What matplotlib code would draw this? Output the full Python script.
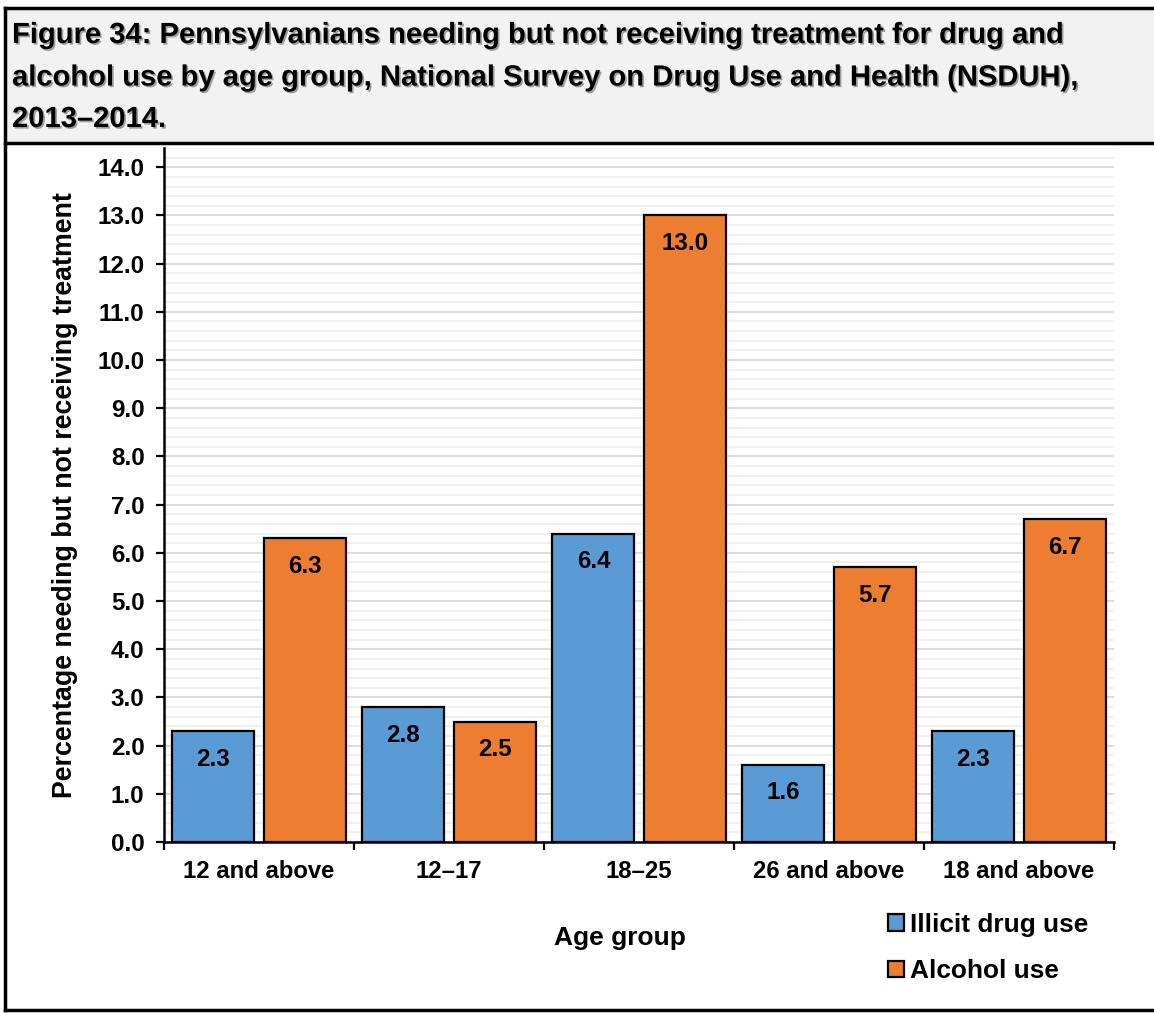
import matplotlib
matplotlib.use("Agg")
import matplotlib.pyplot as plt
from matplotlib.patches import Rectangle
from matplotlib.lines import Line2D
from matplotlib.ticker import MultipleLocator, FormatStrFormatter
import matplotlib.patheffects as pe
import numpy as np

categories = ["12 and above", "12\u201317", "18\u201325", "26 and above", "18 and above"]
illicit = [2.3, 2.8, 6.4, 1.6, 2.3]
alcohol = [6.3, 2.5, 13.0, 5.7, 6.7]
series_names = ["Illicit drug use", "Alcohol use"]
title_lines = ["Figure 34: Pennsylvanians needing but not receiving treatment for drug and",
               "alcohol use by age group, National Survey on Drug Use and Health (NSDUH),",
               "2013\u20132014."]

plt.rcParams['font.family'] = ['Liberation Sans', 'DejaVu Sans']
plt.rcParams['font.weight'] = 'bold'

W, H = 1154, 1013
fig = plt.figure(figsize=(W / 100, H / 100), dpi=100)

def fx(px):
    return px / W

def fy(py):
    return 1 - py / H

# Title box
fig.patches.append(Rectangle((fx(5), fy(143)), 1 - fx(5), fy(8) - fy(143),
                             transform=fig.transFigure, facecolor="#f2f2f2",
                             edgecolor="none", zorder=0))
# outer border
for xs, ys in (([fx(5), fx(5)], [fy(1010), fy(8)]),
               ([fx(5), 1], [fy(8), fy(8)]),
               ([fx(5), 1], [fy(1010), fy(1010)]),
               ([fx(5), 1], [fy(143), fy(143)])):
    fig.lines.append(Line2D(xs, ys, transform=fig.transFigure, color="black", lw=2.5))

for line, base in zip(title_lines, (43, 85.5, 127)):
    fig.text(fx(12), fy(base), line, ha="left", va="baseline", fontsize=21,
             fontweight="bold", color="black",
             path_effects=[pe.SimplePatchShadow(offset=(1.2, -1.2), alpha=0.35),
                           pe.Normal()])

ax_top, ax_bot = 148, 842
ax = fig.add_axes([fx(164), fy(ax_bot), fx(1114) - fx(164), fy(ax_top) - fy(ax_bot)])

x = np.arange(len(categories))
bw = 0.432
off = 0.24
b1 = ax.bar(x - off, illicit, bw, color="#5B9BD5", edgecolor="black", linewidth=1.6,
            label=series_names[0], zorder=3)
b2 = ax.bar(x + off, alcohol, bw, color="#ED7D31", edgecolor="black", linewidth=1.6,
            label=series_names[1], zorder=3)

for bars, vals in ((b1, illicit), (b2, alcohol)):
    for r, v in zip(bars, vals):
        ax.annotate(f"{v:.1f}", (r.get_x() + r.get_width() / 2, v),
                    xytext=(0, -28), textcoords="offset pixels",
                    ha="center", va="center", fontsize=17.4, fontweight="bold",
                    zorder=4)

ax.set_xlim(-0.5, len(categories) - 0.5)
ax.set_ylim(0, 14.4)
ax.yaxis.set_major_locator(MultipleLocator(1.0))
ax.yaxis.set_minor_locator(MultipleLocator(0.2))
ax.yaxis.set_major_formatter(FormatStrFormatter("%.1f"))
ax.grid(which="major", axis="y", color="#d9d9d9", lw=1.3, zorder=0)
ax.grid(which="minor", axis="y", color="#efefef", lw=1.3, zorder=0)
ax.set_axisbelow(True)

ax.set_xticks(np.arange(-0.5, len(categories), 1.0))
ax.set_xticklabels([])
ax.set_xticks(x, minor=True)
ax.set_xticklabels(categories, minor=True, fontsize=17.2, fontweight="bold")
ax.tick_params(axis="x", which="major", direction="out", length=6, width=1.6)
ax.tick_params(axis="x", which="minor", length=0, pad=13)
ax.tick_params(axis="y", which="major", direction="out", length=6, width=1.6,
               labelsize=17.4, pad=8)
ax.tick_params(axis="y", which="minor", length=0)
for lab in ax.get_yticklabels():
    lab.set_fontweight("bold")

for s in ("top", "right"):
    ax.spines[s].set_visible(False)
for s in ("left", "bottom"):
    ax.spines[s].set_linewidth(1.8)

fig.text(fx(65), fy(495), "Percentage needing but not receiving treatment",
         rotation=90, ha="center", va="center", fontsize=19.3, fontweight="bold")
fig.text(fx(620), fy(938), "Age group", ha="center", va="center",
         fontsize=19, fontweight="bold")

leg = fig.legend(handles=[b1, b2], labels=series_names, loc="upper left",
                 bbox_to_anchor=(fx(888), fy(913)), frameon=False,
                 fontsize=18.9, handlelength=0.6, handleheight=0.6,
                 handletextpad=0.25, labelspacing=0.85, borderaxespad=0,
                 borderpad=0)
for t in leg.get_texts():
    t.set_fontweight("bold")

fig.savefig("out.png", dpi=100)
